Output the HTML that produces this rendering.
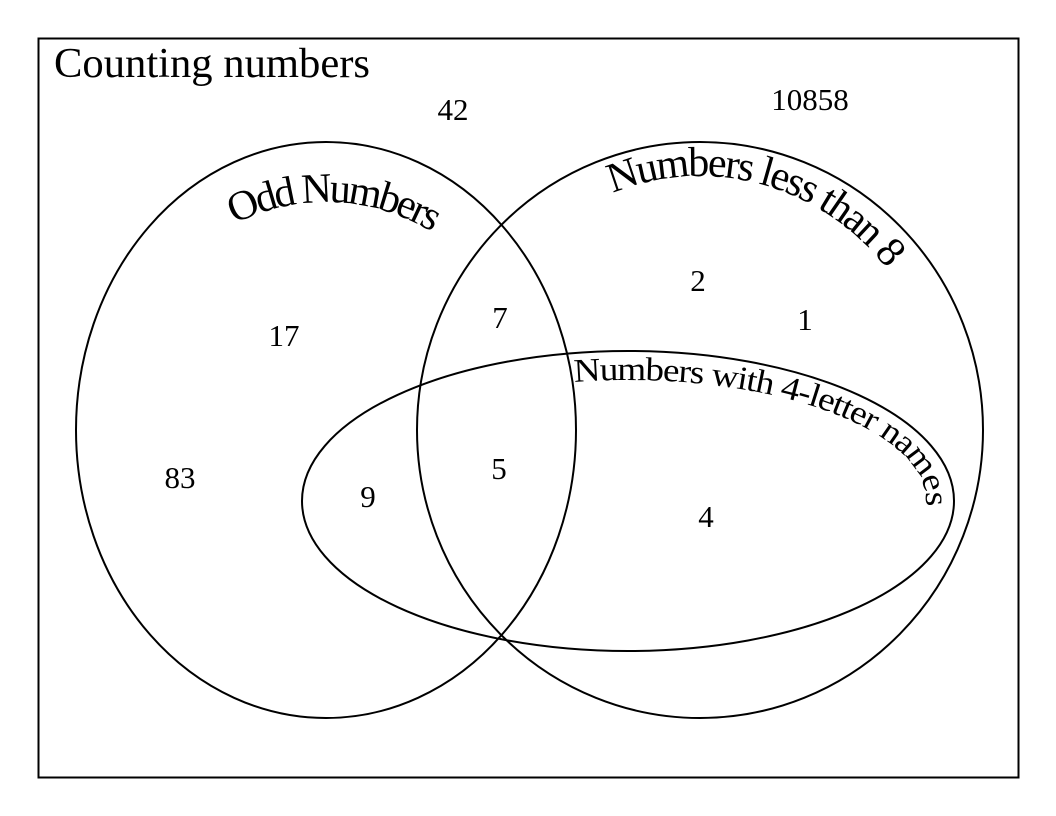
<!DOCTYPE html>
<html><head><meta charset="utf-8"><style>
html,body{margin:0;padding:0;background:#fff;}
svg{display:block;font-family:"Liberation Serif",serif;}
</style></head>
<body>
<svg id="venn" width="1056" height="816" viewBox="0 0 1056 816">
  <defs>
    <path id="oddPath" d="M 112,430 A 214,228 0 0 1 540,430"/>
    <path id="lessPath" d="M 458,430 A 242,254 0 0 1 942,430"/>
    <path id="fourPath" d="M 330,501 A 298,121 0 0 1 926,501 A 298,121 0 0 1 330,501"/>
  </defs>
  <rect x="38.5" y="38.5" width="980" height="739" fill="#fff" stroke="#000" stroke-width="2"/>
  <text x="54" y="77" font-size="42" textLength="316" lengthAdjust="spacingAndGlyphs">Counting numbers</text>
  <ellipse cx="326" cy="430" rx="250" ry="288" fill="none" stroke="#000" stroke-width="2"/>
  <ellipse cx="700" cy="430" rx="283" ry="288" fill="none" stroke="#000" stroke-width="2"/>
  <ellipse cx="628" cy="501" rx="326" ry="150" fill="none" stroke="#000" stroke-width="2"/>
  <text font-size="33" letter-spacing="-1"><textPath href="#fourPath" startOffset="290" textLength="402" lengthAdjust="spacingAndGlyphs">Numbers with 4-letter names</textPath></text>
  <text font-size="42" text-anchor="middle" letter-spacing="-3"><textPath href="#oddPath" startOffset="51%">Odd Numbers</textPath></text>
  <text font-size="42" text-anchor="middle" letter-spacing="-2"><textPath href="#lessPath" startOffset="58%">Numbers less than 8</textPath></text>
  <g id="vals"></g>
</svg>
<script>
const labels = ["42","10858","17","7","2","1","83","9","5","4"];
const regions = ["outside-a","outside-b","odd-only","odd-less","less-only-a","less-only-b","odd-only-b","odd-four","all-three","less-four"];
const cx = [453,810,284,500,698,805,180,368,499,706];
const cy = [110,100,336,318,281,320,478,497,469,517];
const g = document.getElementById('vals');
labels.forEach((v,i)=>{
  const t = document.createElementNS('http://www.w3.org/2000/svg','text');
  t.setAttribute('x', cx[i]);
  t.setAttribute('y', cy[i]+10);
  t.setAttribute('font-size','31');
  t.setAttribute('text-anchor','middle');
  
  
  t.textContent = v;
  g.appendChild(t);
});
</script>
</body></html>
